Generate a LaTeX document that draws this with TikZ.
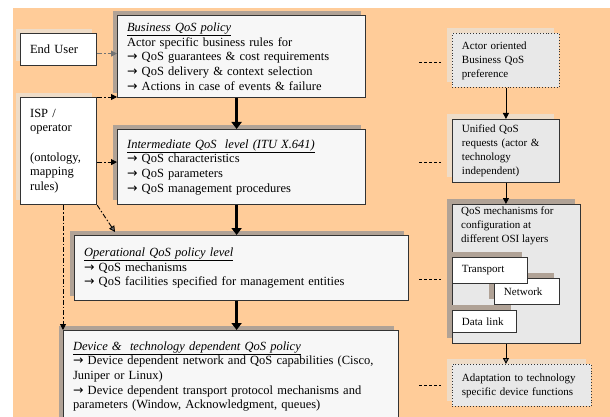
\documentclass[tikz,border=0pt]{standalone}
\usepackage{fontspec}
\setmainfont{Liberation Serif}
\newfontfamily\arrfont{DejaVu Sans}
\usetikzlibrary{arrows.meta}
\definecolor{bgorange}{RGB}{255,204,153}
\definecolor{boxwhite}{RGB}{247,247,247}
\definecolor{boxgrey}{RGB}{232,232,232}
\definecolor{shdark}{RGB}{176,162,150}
\definecolor{shlight}{RGB}{238,220,200}
\newcommand\arr{{\arrfont →}\ }
\newcommand\heading[1]{\underline{\textit{#1}}}
\tikzset{
  box/.style={draw=black!80, line width=1.2pt, anchor=north west, inner xsep=9pt, inner ysep=2pt, align=left},
  darkshade/.style={preaction={fill=shdark, draw=none, transform canvas={xshift=-5pt,yshift=5pt}}},
  lightshade/.style={preaction={fill=shlight, draw=none, transform canvas={xshift=-5pt,yshift=5pt}}},
  mainbox/.style={box, fill=boxwhite, darkshade, font=\fontsize{12.5}{14.7}\selectfont},
  actorbox/.style={box, fill=white, lightshade, font=\fontsize{12.5}{14.7}\selectfont},
  sidebox/.style={box, line width=0.9pt, fill=boxgrey, lightshade, font=\fontsize{11}{14}\selectfont},
  layerbox/.style={box, line width=0.9pt, fill=white, darkshade, font=\fontsize{11}{14}\selectfont},
  bigarrow/.style={line width=2.8pt, -{Triangle[width=10pt,length=7pt]}},
  thinarrow/.style={line width=0.9pt, -{Triangle[width=6pt,length=6pt]}},
  dashdot/.style={line width=0.9pt, dash pattern=on 5pt off 2pt on 1.5pt off 2pt, -{Triangle[width=6pt,length=6pt]}},
  dashes/.style={line width=0.8pt, dash pattern=on 3pt off 2pt}
}
\begin{document}
\begin{tikzpicture}[x=1pt,y=-1pt]
		\useasboundingbox (0,0) rectangle (610,417);
		\clip (0,0) rectangle (610,417);
		\fill[bgorange] (13,8) rectangle (610,417);
		\node[mainbox, minimum width=248, minimum height=82, text width=229] (business) at (117,15) {\heading{Business QoS policy}\\ Actor specific business rules for\\ \arr QoS guarantees \& cost requirements\\ \arr QoS delivery \& context selection\\ \arr Actions in case of events \& failure};
		\node[mainbox, minimum width=248, minimum height=75, text width=229] (inter) at (117,129) {\heading{Intermediate QoS\ \ level (ITU X.641)}\\ \arr QoS characteristics\\ \arr QoS parameters\\ \arr QoS management procedures};
		\node[mainbox, minimum width=334, minimum height=65, text width=315] (oper) at (74,235) {\heading{Operational QoS policy level}\\ \arr QoS mechanisms\\ \arr QoS facilities specified for management entities};
		\node[mainbox, minimum width=335, minimum height=92, text width=316] (device) at (63,330) {\heading{Device \&\ \ technology dependent QoS policy}\\ \arr Device dependent network and QoS capabilities (Cisco,\\ Juniper or Linux)\\ \arr Device dependent transport protocol mechanisms and\\ parameters (Window, Acknowledgment, queues)};
		\node[actorbox, minimum width=76, minimum height=32, text width=57] (enduser) at (20,33) {End User};
		\node[actorbox, minimum width=76, minimum height=107, text width=57] (isp) at (20,97) {ISP /\\ operator\\ \mbox{}\\ (ontology,\\ mapping\\ rules)};
		\node[sidebox, dotted, minimum width=107, minimum height=54, text width=88] (actor) at (452,33) {Actor oriented\\ Business QoS\\ preference};
		\node[sidebox, minimum width=107, minimum height=63, text width=88] (unified) at (452,119) {Unified QoS\\ requests (actor \&\\ technology\\ independent)};
		\node[sidebox, darkshade, minimum width=128, minimum height=139] (mech) at (452,204) {};
		\node[anchor=north west, inner xsep=9pt, inner ysep=3pt, align=left, font=\fontsize{11}{14}\selectfont] (mechtext) at (mech.north west) {QoS mechanisms for\\ configuration at\\ different OSI layers};
		\node[layerbox, minimum width=65, minimum height=26, text width=46] (network) at (494,278) {Network};
		\node[layerbox, minimum width=75, minimum height=26, text width=56] (transport) at (452,257) {Transport};
		\node[layerbox, minimum width=64, minimum height=22, text width=45] (datalink) at (452,310) {Data link};
		\node[sidebox, dotted, minimum width=139, minimum height=42, text width=120] (adapt) at (452,364) {Adaptation to technology\\ specific device functions};
		\draw[bigarrow] ([xshift=-5pt]business.south) -- ([xshift=-5pt]business.south |- inter.north);
		\draw[bigarrow] ([xshift=-5pt]inter.south) -- ([xshift=-5pt]inter.south |- oper.north);
		\draw[bigarrow] ([xshift=-5pt]oper.south) -- ([xshift=-5pt]oper.south |- device.north);
		\draw[dashdot, black!55] ([yshift=-4pt]enduser.east) -- ([yshift=-4pt]enduser.east -| business.west);
		\draw[dashdot] (isp.north east) -- (isp.north east -| business.west);
		\draw[dashdot] ([yshift=-11pt]isp.east) -- ([yshift=-11pt]isp.east -| inter.west);
		\draw[dashdot, -{Triangle[width=6pt,length=6pt,fill=black!55]}] (isp.south east) -- ([xshift=41pt,yshift=3pt]oper.north west);
		\draw[dashdot] (isp.south -| device.north west) -- (device.north west);
		\draw[thinarrow] (actor.south) -- (unified.north);
		\draw[thinarrow] (unified.south) -- (unified.south |- mech.north);
		\draw[thinarrow, -{Triangle[width=6pt,length=6pt,fill=black!55]}] (unified.south |- mech.south) -- (unified.south |- adapt.north);
		\foreach \y in {62,162,279,385}
			\draw[dashes] (419,\y) -- (441,\y);
	\end{tikzpicture}
\end{document}
